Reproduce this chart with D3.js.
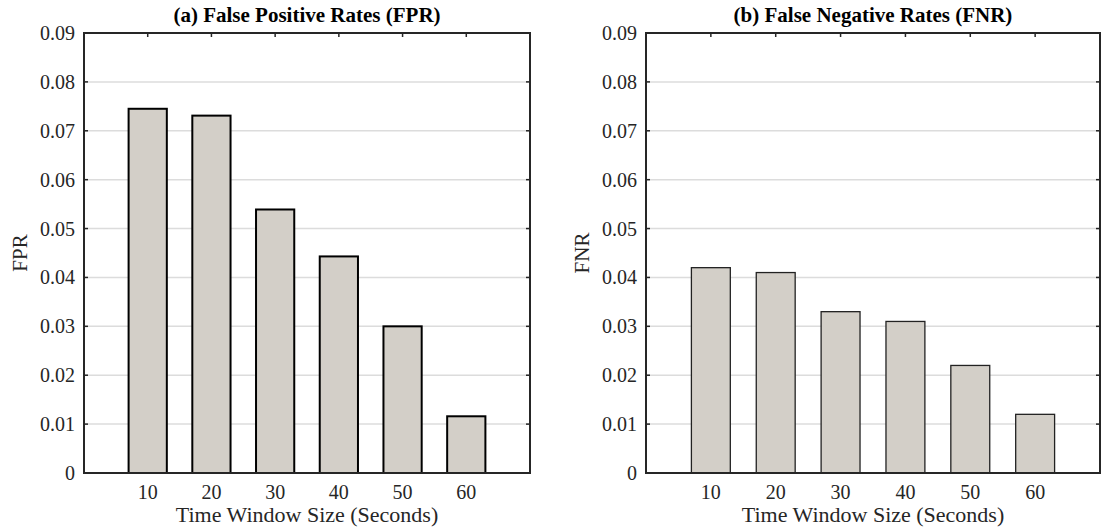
<!DOCTYPE html>
<html>
<head>
<meta charset="utf-8">
<script src="https://cdn.jsdelivr.net/npm/d3@7"></script>
<style>
  body { margin: 0; background: #fff; }
  svg { display: block; font-family: "Liberation Serif", "Times New Roman", serif; }
</style>
</head>
<body>
<script>
var windows = [10, 20, 30, 40, 50, 60];
var fprValues = [0.0745, 0.0731, 0.0539, 0.0443, 0.0300, 0.0116];
var fnrValues = [0.0420, 0.0410, 0.0330, 0.0310, 0.0220, 0.0120];
var yTicks = [0, 0.01, 0.02, 0.03, 0.04, 0.05, 0.06, 0.07, 0.08, 0.09];

var svg = d3.select('body').append('svg')
    .attr('width', 1103)
    .attr('height', 529);

function panel(opts){
    var left = opts.left, right = opts.right, top = 33, bottom = 473;
    var x = d3.scaleLinear().domain([0, 7]).range([left, right]);
    var y = d3.scaleLinear().domain([0, 0.09]).range([bottom, top]);
    var g = svg.append('g');

    // grid
    g.selectAll('line.grid').data(yTicks.slice(1, -1)).enter().append('line')
        .attr('x1', left).attr('x2', right)
        .attr('y1', function(d){ return y(d); })
        .attr('y2', function(d){ return y(d); })
        .style('stroke', '#dcdcdc')
        .style('stroke-width', 1.5);

    // bars
    var bw = (x(1) - x(0)) * 0.6;
    g.selectAll('rect.bar').data(opts.values).enter().append('rect')
        .attr('x', function(d, i){ return x(i + 1) - bw/2; })
        .attr('y', function(d){ return y(d); })
        .attr('width', bw)
        .attr('height', function(d){ return bottom - y(d); })
        .style('fill', '#d3cfc8')
        .style('stroke', opts.barStroke)
        .style('stroke-width', opts.barWidth);

    // ticks inside (left/right/top)
    var tl = 4;
    yTicks.forEach(function(t){
        g.append('line').attr('x1', left).attr('x2', left + tl)
            .attr('y1', y(t)).attr('y2', y(t))
            .style('stroke', '#262626').style('stroke-width', 1.5);
        g.append('line').attr('x1', right).attr('x2', right - tl)
            .attr('y1', y(t)).attr('y2', y(t))
            .style('stroke', '#262626').style('stroke-width', 1.5);
    });
    windows.forEach(function(w, i){
        g.append('line').attr('x1', x(i + 1)).attr('x2', x(i + 1))
            .attr('y1', top).attr('y2', top + tl)
            .style('stroke', '#262626').style('stroke-width', 1.5);
    });

    // frame
    g.append('rect')
        .attr('x', left).attr('y', top)
        .attr('width', right - left).attr('height', bottom - top)
        .style('fill', 'none')
        .style('stroke', '#262626')
        .style('stroke-width', 2);

    // tick labels
    g.selectAll('text.ytick').data(yTicks).enter().append('text')
        .attr('x', left - 9)
        .attr('y', function(d){ return y(d) + 7; })
        .attr('text-anchor', 'end')
        .style('font-size', '20px')
        .style('fill', '#262626')
        .text(function(d){ return d === 0 ? '0' : d.toFixed(2); });
    g.selectAll('text.xtick').data(windows).enter().append('text')
        .attr('x', function(d, i){ return x(i + 1); })
        .attr('y', 499)
        .attr('text-anchor', 'middle')
        .style('font-size', '20px')
        .style('fill', '#262626')
        .text(function(d){ return d; });

    // labels
    g.append('text')
        .attr('x', (left + right)/2).attr('y', 522)
        .attr('text-anchor', 'middle')
        .style('font-size', '22px')
        .style('fill', '#262626')
        .text('Time Window Size (Seconds)');
    g.append('text')
        .attr('transform', 'translate(' + (left - 57) + ',' + ((top + bottom)/2) + ') rotate(-90)')
        .attr('text-anchor', 'middle')
        .style('font-size', '21px')
        .style('fill', '#262626')
        .text(opts.ylabel);
    g.append('text')
        .attr('x', (left + right)/2).attr('y', 22)
        .attr('text-anchor', 'middle')
        .style('font-size', '21px')
        .style('font-weight', 'bold')
        .style('fill', '#000')
        .text(opts.title);
}

panel({left: 84, right: 530, values: fprValues, ylabel: 'FPR',
       title: '(a) False Positive Rates (FPR)', barStroke: '#000', barWidth: 2});
panel({left: 646, right: 1100, values: fnrValues, ylabel: 'FNR',
       title: '(b) False Negative Rates (FNR)', barStroke: '#222', barWidth: 1.3});
</script>
</body>
</html>
